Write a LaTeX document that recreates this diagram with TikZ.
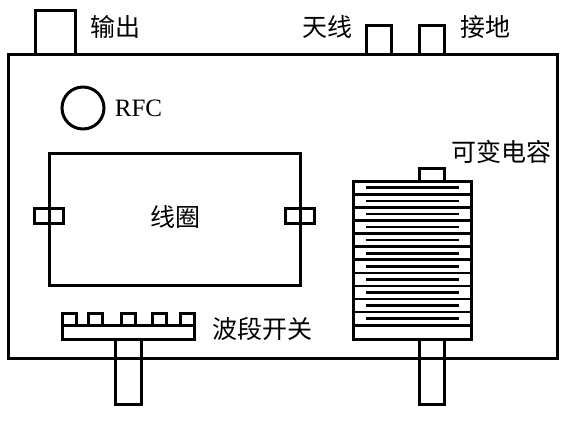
\documentclass[tikz,border=0pt]{standalone}
\usepackage{fontspec}
\setmainfont{Liberation Serif}
\newfontfamily\cjk{Noto Sans CJK SC}
\tikzset{
  part/.style={line width=3pt},
  plate/.style={line width=2.6pt},
  cnlabel/.style={font=\fontsize{25}{25}\cjk, inner sep=0pt},
  enlabel/.style={font=\fontsize{25}{25}\selectfont, inner sep=0pt}
}
\begin{document}
\begin{tikzpicture}[x=1pt, y=-1pt]
  \useasboundingbox (0,0) rectangle (567,429);

  % Case
  \draw[part] (8,54.5) rectangle (557,358);

  % Ports on top
  \draw[part] (35,54.5) -- (35,10) -- (75,10) -- (75,54.5);
  \draw[part] (366,54.5) -- (366,25) -- (391,25) -- (391,54.5);
  \draw[part] (419,54.5) -- (419,25) -- (444,25) -- (444,54.5);
  \node[cnlabel] (output) at (115,27) {输出};
  \node[cnlabel] (antenna) at (327,27) {天线};
  \node[cnlabel] (ground) at (485.5,27) {接地};

  % RFC
  \draw[part] (83,108) circle (21);
  \node[enlabel] (rfc) at (138.5,108) {RFC};

  % Coil with its two tabs
  \draw[part] (49,153) rectangle (300,285);
  \draw[part] (34,208) rectangle (63,223);
  \draw[part] (285,208) rectangle (314,223);
  \node[cnlabel] (coil) at (175,217) {线圈};

  % Band switch
  \draw[part] (62,325) rectangle (194,339);
  \foreach \x in {62,88,121,152,180}
    \draw[part] (\x,325) -- (\x,313) -- ({\x+14},313) -- ({\x+14},325);
  \draw[part] (115,339) rectangle (141,404);
  \node[cnlabel] (switch) at (262,329) {波段开关};

  % Variable capacitor
  \draw[part] (353,181) rectangle (471,339);
  \draw[part] (419,181) -- (419,168) -- (444,168) -- (444,181);
  \draw[part] (419,339) rectangle (444,404);
  \foreach \i in {0,...,10} {
    \draw[plate] (366,{187.7+13.1*\i}) -- (459,{187.7+13.1*\i});
    \draw[plate] (353,{194.2+13.1*\i}) -- (471,{194.2+13.1*\i});
  }
  \node[cnlabel] (capacitor) at (501.5,152) {可变电容};
\end{tikzpicture}
\end{document}
